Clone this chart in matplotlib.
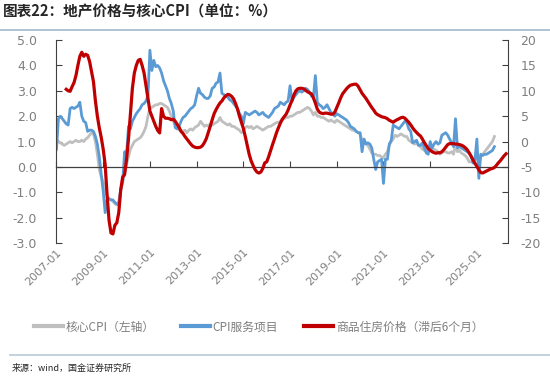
import numpy as np
import pandas as pd
import matplotlib
matplotlib.use('Agg')
import matplotlib.pyplot as plt
from matplotlib.lines import Line2D

plt.rcParams['font.family'] = ['Noto Sans CJK SC', 'DejaVu Sans']
plt.rcParams['axes.unicode_minus'] = False

# 月度数据，2007-01 起
core_cpi = [
    1.1, 1.0, 0.95, 0.9, 0.85, 0.9, 0.95, 1.0, 0.95, 1.0, 1.05, 1.0,            # 2007
    1.0, 1.05, 1.0, 1.1, 1.15, 1.25, 1.35, 1.3, 1.0, 0.5, -0.1, -0.4,           # 2008
    -0.6, -0.9, -1.15, -1.25, -1.3, -1.35, -1.45, -1.5, -1.35, -0.9, -0.6, -0.25,  # 2009
    0.1, 0.4, 0.7, 0.85, 1.0, 1.05, 1.1, 1.15, 1.25, 1.4, 1.6, 2.0,             # 2010
    2.3, 2.35, 2.4, 2.45, 2.45, 2.5, 2.5, 2.45, 2.4, 2.35, 2.2, 2.0,            # 2011
    1.8, 1.65, 1.55, 1.45, 1.45, 1.4, 1.45, 1.35, 1.45, 1.5, 1.45, 1.55,        # 2012
    1.6, 1.65, 1.8, 1.7, 1.6, 1.65, 1.6, 1.7, 1.65, 1.7, 1.75, 1.8,             # 2013
    1.95, 1.8, 1.75, 1.7, 1.65, 1.7, 1.6, 1.6, 1.55, 1.5, 1.45, 1.35,          # 2014
    1.4, 1.55, 1.6, 1.55, 1.6, 1.5, 1.55, 1.6, 1.55, 1.5, 1.45, 1.5,            # 2015
    1.55, 1.6, 1.6, 1.65, 1.7, 1.75, 1.75, 1.8, 1.85, 1.9, 1.95, 1.95,         # 2016
    2.0, 2.0, 2.05, 2.1, 2.15, 2.15, 2.2, 2.25, 2.3, 2.35, 2.3, 2.2,            # 2017
    2.05, 2.15, 2.0, 2.0, 1.95, 1.95, 1.9, 1.85, 1.8, 1.85, 1.8, 1.75,          # 2018
    1.85, 1.8, 1.75, 1.7, 1.65, 1.6, 1.55, 1.5, 1.45, 1.45, 1.4, 1.35,          # 2019
    1.3, 1.05, 1.0, 0.95, 0.85, 0.7, 0.55, 0.5, 0.5, 0.45, 0.45, 0.4,           # 2020
    0.35, 0.5, 0.6, 0.85, 1.0, 1.1, 1.25, 1.2, 1.25, 1.3, 1.25, 1.2,            # 2021
    1.2, 1.05, 1.0, 0.95, 0.9, 0.95, 0.85, 0.8, 0.7, 0.65, 0.65, 0.7,           # 2022
    0.75, 0.65, 0.7, 0.65, 0.6, 0.5, 0.55, 0.6, 0.6, 0.55, 0.55, 0.6,           # 2023
    0.5, 0.9, 0.6, 0.65, 0.55, 0.5, 0.45, 0.35, 0.2, 0.2, 0.25, 0.35,           # 2024
    0.4, 0.1, 0.45, 0.5, 0.6, 0.7, 0.8, 0.9, 1.0, 1.2,                          # 2025
]

cpi_services = [
    0.7, 1.9, 2.0, 1.9, 1.8, 1.7, 1.65, 2.3, 2.35, 2.3, 2.35, 2.4,              # 2007
    2.55, 2.0, 1.8, 1.75, 1.4, 1.45, 1.45, 1.4, 1.2, 0.9, 0.4, -0.3,            # 2008
    -0.95, -1.8, -1.3, -1.25, -1.3, -1.3, -1.4, -1.45, -1.5, -0.9, -0.6, 0.6,   # 2009
    0.5, 1.6, 1.5, 1.8, 1.95, 2.1, 2.2, 2.3, 2.45, 2.5, 2.6, 2.8,               # 2010
    4.6, 3.8, 4.2, 3.95, 4.0, 3.9, 3.7, 3.4, 3.2, 3.0, 2.7, 2.5,                # 2011
    2.2, 1.55, 1.5, 1.6, 1.8, 1.95, 2.0, 2.1, 2.2, 2.3, 2.35, 2.45,             # 2012
    2.8, 3.1, 2.9, 2.85, 2.75, 2.7, 2.7, 2.8, 3.1, 3.15, 3.3, 3.35,             # 2013
    3.7, 2.9, 2.85, 2.8, 2.75, 2.65, 2.6, 2.5, 2.4, 2.3, 2.1, 2.0,              # 2014
    1.7, 2.15, 2.1, 2.05, 2.1, 2.15, 2.2, 2.15, 2.05, 2.1, 2.15, 2.05,          # 2015
    2.0, 1.95, 2.05, 2.15, 2.3, 2.35, 2.4, 2.55, 2.5, 2.45, 2.55, 2.6,          # 2016
    3.2, 2.6, 2.75, 2.85, 2.95, 3.0, 2.95, 3.0, 3.1, 3.05, 2.95, 2.8,           # 2017
    2.75, 3.6, 2.55, 2.45, 2.4, 2.3, 2.35, 2.45, 2.3, 2.15, 2.1, 2.0,           # 2018
    2.1, 2.05, 2.0, 1.95, 1.9, 1.85, 1.75, 1.6, 1.55, 1.5, 1.4, 1.35,           # 2019
    1.35, 0.6, 1.1, 0.9, 0.95, 0.9, 0.75, 0.3, -0.1, 0.2, 0.25, 0.3,            # 2020
    -0.65, 0.3, 0.3, 0.9, 1.05, 1.65, 1.6, 1.55, 1.5, 1.6, 1.7, 1.8,           # 2021
    1.75, 1.5, 1.4, 0.95, 1.0, 1.05, 0.85, 0.85, 0.95, 0.75, 0.55, 0.5,         # 2022
    1.0, 0.75, 0.9, 1.0, 0.9, 0.95, 1.25, 1.3, 1.35, 1.25, 1.1, 0.95,           # 2023
    0.8, 1.9, 0.75, 0.8, 0.75, 0.7, 0.65, 0.6, 0.55, 0.45, 0.15, 0.3,           # 2024
    1.1, -0.45, 0.5, 0.45, 0.5, 0.5, 0.55, 0.6, 0.65, 0.8,                      # 2025
]

# 商品住房价格同比（滞后6个月），2007-06 起
house_price = [
    10.3, 10.0, 9.9, 10.8, 11.6, 13.0, 15.0,                                     # 2007
    16.8, 17.6, 16.8, 17.2, 17.0, 15.8, 13.8, 11.8, 8.0, 5.0, 2.7, 0.8,          # 2008
    -1.5, -4.5, -10.5, -15.5, -18.0, -18.2, -16.5, -16.0, -14.0, -9.5, -7.0, -6.5,  # 2009
    -3.5, 0.5, 5.5, 10.5, 13.5, 15.0, 16.0, 16.2, 15.0, 13.5, 11.0, 8.5,         # 2010
    6.0, 5.0, 4.0, 3.0, 2.2, 1.7, 6.5, 5.0, 4.6, 4.6, 4.5, 4.3,                  # 2011
    4.4, 4.0, 3.4, 2.8, 2.0, 1.6, 1.0, 0.5, 0.0, -0.5, -0.9, -1.1,               # 2012
    -1.2, -1.2, -1.1, -0.8, -0.2, 0.6, 1.8, 3.0, 4.3, 5.5, 6.3, 7.0,             # 2013
    7.6, 8.0, 8.6, 9.0, 9.3, 9.2, 8.9, 8.4, 7.5, 6.4, 5.0, 3.8,                  # 2014
    2.6, 1.0, -0.8, -2.5, -3.8, -4.7, -5.5, -6.0, -6.2, -6.0, -5.3, -4.2,        # 2015
    -4.0, -3.0, -1.8, -0.6, 0.5, 1.7, 2.7, 3.6, 4.4, 4.9, 5.4, 6.2,              # 2016
    7.2, 8.1, 9.2, 10.0, 10.4, 10.5, 10.5, 10.4, 10.1, 9.8, 9.6, 9.4,            # 2017
    8.6, 7.6, 6.4, 5.8, 5.6, 5.5, 5.6, 5.6, 5.5, 5.4, 5.4, 5.8,                  # 2018
    6.7, 7.6, 8.6, 9.4, 9.9, 10.4, 10.8, 11.1, 11.2, 11.3, 11.3, 10.9,           # 2019
    10.2, 9.5, 9.0, 8.5, 7.9, 7.3, 6.7, 6.2, 5.6, 5.3, 5.1, 4.9,                 # 2020
    4.8, 4.7, 4.5, 4.2, 4.0, 3.8, 4.1, 4.3, 4.5, 4.7, 4.8, 4.6,                  # 2021
    4.2, 3.8, 3.3, 2.7, 2.2, 1.8, 1.4, 1.1, 0.5, -0.2, -0.8, -1.4,               # 2022
    -1.7, -2.0, -2.2, -2.3, -2.2, -2.2, -2.0, -1.6, -1.1, -0.6, -0.4, -0.4,      # 2023
    -0.4, -0.5, -0.5, -0.6, -0.7, -0.9, -1.2, -1.6, -2.2, -2.9, -3.6, -4.3,      # 2024
    -4.9, -5.6, -6.1, -6.2, -6.0, -5.8, -5.6, -5.4, -5.3, -5.1, -4.7, -4.2,      # 2025
    -3.8, -3.3, -2.8, -2.4,                                                      # 2026
]

months = pd.date_range('2007-01', '2026-04', freq='MS')
x_all = np.arange(len(months))
x_cpi = x_all[:len(core_cpi)]
x_house = x_all[5:5 + len(house_price)]
tick_pos = x_all[::24]
tick_labels = months[::24].strftime('%Y-%m')

gray_txt = '#7f7f7f'

fig = plt.figure(figsize=(5.5, 3.78), dpi=100)
ax = fig.add_axes([0.1027, 0.357, 0.821, 0.537])
ax2 = ax.twinx()

l1, = ax.plot(x_cpi, core_cpi, color='#bfbfbf', lw=2.0, label='核心CPI（左轴）')
l2, = ax.plot(x_cpi, cpi_services, color='#5b9bd5', lw=2.0, label='CPI服务项目')
l3, = ax2.plot(x_house, house_price, color='#c00000', lw=2.3, label='商品住房价格（滞后6个月）')

ax.set_xlim(0, 232)
ax.set_ylim(-3, 5)
ax.set_yticks(np.arange(-3, 5.01, 1))
ax.set_yticklabels([f'{v:.1f}' for v in np.arange(-3, 5.01, 1)], family='DejaVu Sans')
ax2.set_ylim(-20, 20)
ax2.set_yticks(np.arange(-20, 21, 5))
ax2.set_yticklabels([str(v) for v in np.arange(-20, 21, 5)], family='DejaVu Sans')

# x轴放在0处，刻度朝上
ax.spines['bottom'].set_position(('data', 0))
ax.spines['bottom'].set_color('#404040')
ax.spines['bottom'].set_linewidth(0.9)
ax.spines['top'].set_visible(False)
ax.spines['right'].set_visible(False)
ax.spines['left'].set_color('#404040')
ax2.spines['top'].set_visible(False)
ax2.spines['bottom'].set_visible(False)
ax2.spines['left'].set_visible(False)
ax2.spines['right'].set_color('#404040')

ax.set_xticks(tick_pos)
ax.tick_params(axis='x', direction='in', length=4, color='#404040', labelbottom=False)
ax.tick_params(axis='y', direction='in', length=4, color='#404040', labelsize=9,
               labelcolor=gray_txt, pad=14)
ax2.tick_params(axis='y', direction='in', length=4, color='#404040', labelsize=9,
                labelcolor=gray_txt, pad=9)

sec = ax.secondary_xaxis('bottom')
sec.set_xticks(tick_pos, tick_labels)
sec.spines['bottom'].set_visible(False)
sec.tick_params(length=0, pad=3, labelsize=8, labelcolor=gray_txt)
for lab in sec.get_xticklabels():
    lab.set_family('DejaVu Sans')
    lab.set_rotation(45)
    lab.set_ha('right')
    lab.set_va('top')
    lab.set_rotation_mode('anchor')

leg = fig.legend(handles=[l1, l2, l3], loc='center', bbox_to_anchor=(0.47, 1 - 327 / 378),
                 ncol=3, frameon=False, fontsize=8.5, handlelength=2.5, handletextpad=0.2,
                 columnspacing=2.2)
for t in leg.get_texts():
    t.set_color(gray_txt)
for h in leg.get_lines():
    h.set_linewidth(3)

fig.text(0.005, 1 - 12 / 378, '图表22：地产价格与核心CPI（单位：%）', fontsize=10.5,
         fontweight='bold', color='#262626', va='center', ha='left')
fig.add_artist(Line2D([0, 1], [1 - 30 / 378, 1 - 30 / 378], transform=fig.transFigure,
                      color='#9fb8c9', lw=1.2))
fig.add_artist(Line2D([10 / 550, 1], [1 - 355 / 378, 1 - 355 / 378], transform=fig.transFigure,
                      color='#b7c9d6', lw=1.2))
fig.text(12 / 550, 1 - 368 / 378, '来源：wind，国金证券研究所', fontsize=6.5, color='#262626',
         va='center', ha='left')

fig.savefig('out.png', dpi=100)
